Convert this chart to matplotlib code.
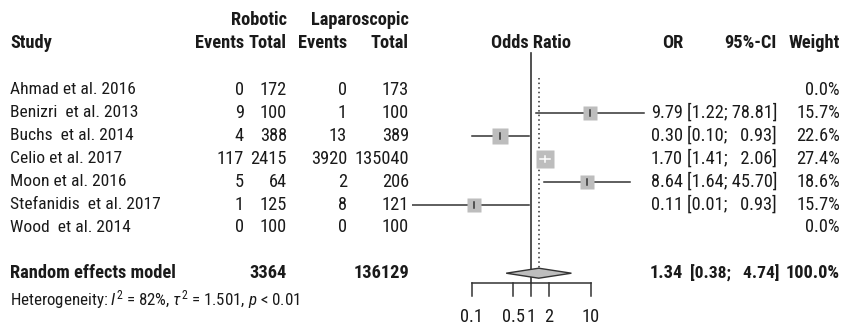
import numpy as np
import matplotlib
matplotlib.use("Agg")
import matplotlib.pyplot as plt
from matplotlib import font_manager as fm

studies = ["Ahmad et al. 2016", "Benizri  et al. 2013", "Buchs  et al. 2014",
           "Celio et al. 2017", "Moon et al. 2016", "Stefanidis  et al. 2017",
           "Wood  et al. 2014"]
rob_events = [0, 9, 4, 117, 5, 1, 0]
rob_total = [172, 100, 388, 2415, 64, 125, 100]
lap_events = [0, 1, 13, 3920, 2, 8, 0]
lap_total = [173, 100, 389, 135040, 206, 121, 100]
odds = [np.nan, 9.79, 0.30, 1.70, 8.64, 0.11, np.nan]
ci_low = [np.nan, 1.22, 0.10, 1.41, 1.64, 0.01, np.nan]
ci_high = [np.nan, 78.81, 0.93, 2.06, 45.70, 0.93, np.nan]
weights = [0.0, 15.7, 22.6, 27.4, 18.6, 15.7, 0.0]

pooled_or = 1.34
pooled_low = 0.38
pooled_high = 4.74
pooled_rob_total = 3364
pooled_lap_total = 136129
heterogeneity = r"Heterogeneity: $I^2$ = 82%, $\tau^2$ = 1.501, $p$ < 0.01"
xticks = [0.1, 0.5, 1, 2, 10]


def has_font(name):
    try:
        fm.findfont(fm.FontProperties(family=name), fallback_to_default=False)
        return True
    except Exception:
        return False


# the reference uses a narrow sans; fall back to a smaller Liberation Sans
FAMILY, FS, FS_NAME, FS_HET = "Liberation Sans", 10.8, 10.8, 9.8
for cand in ["Liberation Sans Narrow", "Arial Narrow", "Roboto Condensed"]:
    if has_font(cand):
        FAMILY, FS, FS_NAME, FS_HET = cand, 13.2, 12.6, 12.2
        break

plt.rcParams["font.family"] = [FAMILY, "DejaVu Sans"]
plt.rcParams["mathtext.fontset"] = "custom"
plt.rcParams["mathtext.rm"] = FAMILY
plt.rcParams["mathtext.it"] = FAMILY + ":italic"
plt.rcParams["mathtext.bf"] = FAMILY + ":bold"

W, H = 841, 327
TXT = "#1a1a1a"
LINE = "#333333"
GREY = "#bdbdbd"

fig = plt.figure(figsize=(W / 100, H / 100), dpi=100)

# text layer in pixel units
tax = fig.add_axes([0, 0, 1, 1])
tax.set_xlim(0, W)
tax.set_ylim(H, 0)
tax.axis("off")

# forest layer: log scale, 59.5 px per decade, OR=1 at x=531.2
px_dec = 59.5
x1 = 531.2
left_px = x1 - 2 * px_dec
fax = fig.add_axes([left_px / W, 0, 4 * px_dec / W, 1])
fax.set_xscale("log")
fax.set_xlim(0.01, 100)
fax.set_ylim(H, 0)
fax.axis("off")
fax.patch.set_alpha(0)

row0, step = 90, 22.9
rows = [row0 + step * i for i in range(len(studies))]
y_pool = rows[-1] + 2 * step
y_het = y_pool + 26
y_axis = 283


def t(x, y, s, ha="right", bold=False, size=None):
    tax.text(x, y, s, ha=ha, va="center", color=TXT, fontsize=size or FS,
             fontweight="bold" if bold else "normal")


# headers
t(287, 20, "Robotic", bold=True)
t(409, 20, "Laparoscopic", bold=True)
t(10, 43, "Study", ha="left", bold=True)
t(244, 43, "Events", bold=True)
t(287, 43, "Total", bold=True)
t(347, 43, "Events", bold=True)
t(409, 43, "Total", bold=True)
t(531, 43, "Odds Ratio", ha="center", bold=True)
t(683, 43, "OR", bold=True)
t(777, 43, "95%-CI", bold=True)
t(840, 43, "Weight", bold=True)


def fmt_ci(lo, hi):
    return "[%.2f; %s]" % (lo, ("%.2f" % hi).rjust(5).replace(" ", "  "))


for i, y in enumerate(rows):
    t(10, y, studies[i], ha="left", size=FS_NAME)
    t(244, y, str(rob_events[i]))
    t(287, y, str(rob_total[i]))
    t(347, y, str(lap_events[i]))
    t(409, y, str(lap_total[i]))
    t(840, y, "%.1f%%" % weights[i])
    if np.isnan(odds[i]):
        continue
    t(683, y, "%.2f" % odds[i])
    t(777, y, fmt_ci(ci_low[i], ci_high[i]))

    side = 3.4 * np.sqrt(weights[i]) * 0.72
    inside = ci_high[i] / ci_low[i] < 10 ** (side / 0.72 / px_dec)
    fax.plot([ci_low[i], ci_high[i]], [y, y], color=LINE, lw=1.1, zorder=2)
    fax.plot(odds[i], y, marker="s", ms=side, color=GREY, mec="none", zorder=3)
    col = "white" if inside else LINE
    if inside:
        fax.plot([ci_low[i], ci_high[i]], [y, y], color=col, lw=1.1, zorder=4)
    fax.plot([odds[i], odds[i]], [y - 3, y + 3], color=col, lw=1.1, zorder=4)

# pooled
t(10, y_pool, "Random effects model", ha="left", bold=True)
t(287, y_pool, str(pooled_rob_total), bold=True)
t(409, y_pool, str(pooled_lap_total), bold=True)
t(683, y_pool, "%.2f" % pooled_or, bold=True)
t(779, y_pool, fmt_ci(pooled_low, pooled_high), bold=True, size=FS - 0.6)
t(840, y_pool, "100.0%", bold=True)
t(10, y_het, heterogeneity, ha="left", size=FS_HET)

fax.fill([pooled_low, pooled_or, pooled_high, pooled_or],
         [y_pool, y_pool - 5, y_pool, y_pool + 5],
         facecolor=GREY, edgecolor=LINE, lw=1.0, zorder=3)

# reference lines
fax.plot([1, 1], [53, y_axis], color=LINE, lw=1.2, zorder=1)
fax.plot([pooled_or, pooled_or], [78, y_pool - 5], color=LINE, lw=1.1,
         ls=(0, (1, 2)), zorder=1)

# x axis
fax.plot([xticks[0], xticks[-1]], [y_axis, y_axis], color=LINE, lw=1.1)
for v in xticks:
    fax.plot([v, v], [y_axis, y_axis + 13], color=LINE, lw=1.1)
    fax.text(v, 317, "%g" % v, ha="center", va="center", color=TXT, fontsize=FS)

fig.savefig("out.png", dpi=100)
